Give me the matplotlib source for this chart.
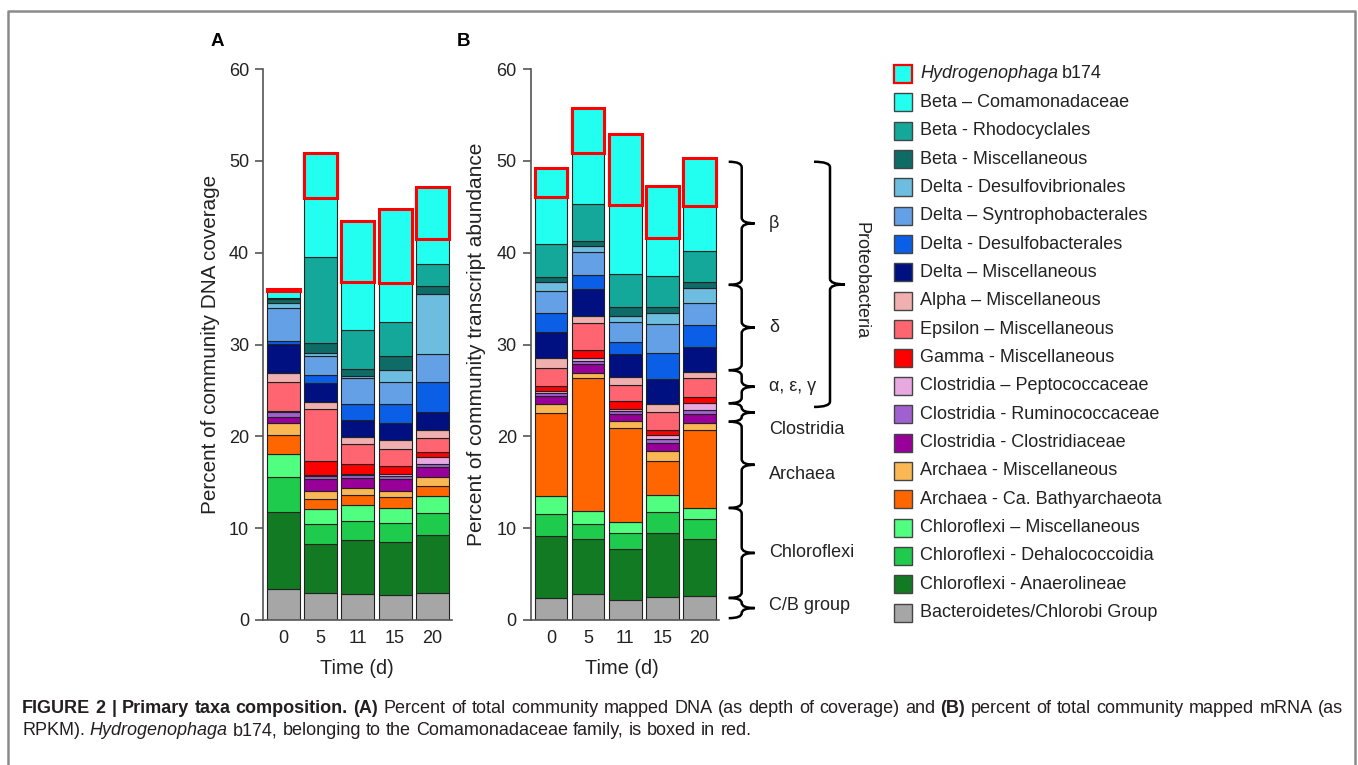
import matplotlib
matplotlib.use("Agg")
import matplotlib.pyplot as plt
import numpy as np
from matplotlib.patches import Rectangle, PathPatch
from matplotlib.path import Path
from matplotlib.lines import Line2D
from matplotlib.transforms import blended_transform_factory

plt.rcParams['font.family'] = ['Liberation Sans', 'DejaVu Sans']

W, H = 1358, 765

days = ['0', '5', '11', '15', '20']

# stacking order, bottom -> top
taxa = ['Bacteroidetes/Chlorobi Group',
        'Chloroflexi - Anaerolineae',
        'Chloroflexi - Dehalococcoidia',
        'Chloroflexi \u2013 Miscellaneous',
        'Archaea - Ca. Bathyarchaeota',
        'Archaea - Miscellaneous',
        'Clostridia - Clostridiaceae',
        'Clostridia - Ruminococcaceae',
        'Clostridia \u2013 Peptococcaceae',
        'Gamma - Miscellaneous',
        'Epsilon \u2013 Miscellaneous',
        'Alpha \u2013 Miscellaneous',
        'Delta \u2013 Miscellaneous',
        'Delta - Desulfobacterales',
        'Delta \u2013 Syntrophobacterales',
        'Delta - Desulfovibrionales',
        'Beta - Miscellaneous',
        'Beta - Rhodocyclales',
        'Beta \u2013 Comamonadaceae',
        'Hydrogenophaga b174']

colors = ['#a6a6a6', '#127a23', '#1ecb4c', '#50ff80', '#ff6600', '#fab855',
          '#990099', '#a060d0', '#e8a8e0', '#ff0000', '#ff6570', '#f0b0b0',
          '#001080', '#0a5fe6', '#64a0e6', '#6cbde0', '#0e6b66', '#14a89a',
          '#22fff0', '#22fff0']

# (A) percent of community DNA coverage, one row per taxon (days 0,5,11,15,20)
dna_pct = [
    [3.38, 2.98, 2.84, 2.70, 2.98],
    [8.42, 5.32, 5.92, 5.74, 6.32],
    [3.80, 2.20, 2.04, 2.16, 2.30],
    [2.50, 1.60, 1.75, 1.60, 1.90],
    [2.00, 1.10, 1.05, 1.20, 1.10],
    [1.40, 0.80, 0.75, 0.70, 0.95],
    [0.60, 1.35, 1.15, 1.25, 1.15],
    [0.60, 0.35, 0.30, 0.35, 0.30],
    [0.05, 0.05, 0.10, 0.20, 0.80],
    [0.05, 1.55, 1.10, 0.90, 0.50],
    [3.10, 5.70, 2.20, 1.85, 1.50],
    [1.00, 0.70, 0.70, 0.90, 0.90],
    [3.10, 2.10, 1.85, 1.85, 1.90],
    [0.40, 0.85, 1.75, 2.10, 3.30],
    [3.60, 2.15, 2.90, 2.40, 3.05],
    [0.50, 0.30, 0.20, 1.30, 6.50],
    [0.50, 1.10, 0.70, 1.60, 0.95],
    [0.10, 9.30, 4.30, 3.60, 2.40],
    [0.70, 6.40, 5.20, 4.25, 2.65],
    [0.20, 4.90, 6.65, 8.15, 5.65],
]

# (B) percent of community transcript abundance
rna_pct = [
    [2.40, 2.84, 2.20, 2.50, 2.60],
    [6.73, 6.00, 5.55, 7.00, 6.24],
    [2.37, 1.66, 1.70, 2.25, 2.16],
    [2.00, 1.35, 1.25, 1.85, 1.20],
    [9.00, 14.55, 10.25, 3.70, 8.45],
    [1.00, 0.55, 0.75, 1.05, 0.80],
    [0.90, 0.95, 0.70, 0.95, 0.95],
    [0.30, 0.30, 0.35, 0.45, 0.45],
    [0.25, 0.30, 0.25, 0.35, 0.75],
    [0.50, 0.90, 0.90, 0.55, 0.70],
    [2.00, 2.95, 1.65, 2.05, 2.10],
    [1.05, 0.75, 0.95, 0.80, 0.60],
    [2.85, 2.90, 2.45, 2.70, 2.70],
    [2.10, 1.60, 1.30, 2.90, 2.40],
    [2.35, 2.50, 2.15, 3.10, 2.45],
    [1.00, 0.60, 0.70, 1.25, 1.55],
    [0.50, 0.60, 1.00, 0.65, 0.75],
    [3.60, 4.00, 3.60, 3.40, 3.35],
    [5.20, 5.60, 7.45, 4.10, 4.90],
    [3.10, 4.80, 7.75, 5.70, 5.20],
]

# group braces next to panel B: (label, bottom, top)
groups = [('\u03b2', 36.5, 49.9), ('\u03b4', 27.2, 36.5), ('\u03b1, \u03b5, \u03b3', 23.6, 27.2),
          ('Clostridia', 21.6, 23.6), ('Archaea', 12.2, 21.6), ('Chloroflexi', 2.4, 12.2),
          ('C/B group', 0.2, 2.4)]
proteo = (23.2, 49.9)

fig = plt.figure(figsize=(W / 100, H / 100), dpi=100)
rend = fig.canvas.get_renderer()


def fx(px):
    return px / W


def fy(py):
    return 1 - py / H


def stacked(ax, table):
    x = np.arange(len(days))
    bottom = np.zeros(len(days))
    for i, row in enumerate(table):
        vals = np.array(row)
        hydro = i == len(table) - 1
        ax.bar(x, vals, 0.885, bottom=bottom, color=colors[i],
               edgecolor='red' if hydro else '#222222',
               linewidth=2.2 if hydro else 0.8, zorder=3 if hydro else 2)
        bottom += vals
    ax.set_xlim(-0.545, 4.53)
    ax.set_ylim(0, 60)
    ax.set_yticks(range(0, 61, 10))
    ax.set_xticks(x)
    ax.set_xticklabels(days)
    for s in ['top', 'right']:
        ax.spines[s].set_visible(False)
    for s in ['left', 'bottom']:
        ax.spines[s].set_color('#555555')
        ax.spines[s].set_linewidth(1.2)
    ax.tick_params(axis='y', length=6, width=1.2, color='#555555', labelsize=13,
                   labelcolor='#222222', pad=4)
    ax.tick_params(axis='x', length=0, labelsize=13, labelcolor='#222222', pad=7)


ax_a = fig.add_axes([fx(263), fy(620), fx(452 - 263), (620 - 69) / H])
ax_b = fig.add_axes([fx(530.7), fy(620), fx(719 - 530.7), (620 - 69) / H])
stacked(ax_a, dna_pct)
stacked(ax_b, rna_pct)

ax_a.set_ylabel('Percent of community DNA coverage', fontsize=14.9, color='#222222')
ax_a.yaxis.set_label_coords(-0.225, 0.5)
ax_b.set_ylabel('Percent of community transcript abundance', fontsize=15, color='#222222')
ax_b.yaxis.set_label_coords(-0.24, 0.5)

fig.text(fx(357), fy(669), 'Time (d)', fontsize=14.4, ha='center', va='center', color='#222222')
fig.text(fx(622), fy(669), 'Time (d)', fontsize=14.4, ha='center', va='center', color='#222222')
fig.text(fx(217), fy(42), 'A', fontsize=13.5, fontweight='bold', ha='center', va='center')
fig.text(fx(463), fy(42), 'B', fontsize=13.5, fontweight='bold', ha='center', va='center')


def brace(ax, xpx, y0, y1, hook=13, tick=13, lw=1.8):
    tr = blended_transform_factory(fig.transFigure, ax.transData)
    x, h, t = fx(xpx), fx(hook), fx(tick)
    r = min(0.6, (y1 - y0) / 4)
    ym = (y0 + y1) / 2
    verts = [(x - h, y1), (x, y1), (x, y1 - r), (x, ym + r), (x, ym), (x + t, ym),
             (x, ym), (x, ym - r), (x, y0 + r), (x, y0), (x - h, y0)]
    codes = [Path.MOVETO, Path.CURVE3, Path.CURVE3, Path.LINETO, Path.CURVE3, Path.CURVE3,
             Path.CURVE3, Path.CURVE3, Path.LINETO, Path.CURVE3, Path.CURVE3]
    p = PathPatch(Path(verts, codes), transform=tr, fill=False, lw=lw, color='black',
                  clip_on=False, capstyle='butt')
    fig.add_artist(p)
    return ym


for name, lo, hi in groups:
    ym = brace(ax_b, 741.7, lo, hi)
    ty = {'Clostridia': 20.7, 'Archaea': 15.8, 'Chloroflexi': 7.3, 'C/B group': 1.6}.get(name, ym)
    ax_b.text(fx(769), ty, name, transform=blended_transform_factory(fig.transFigure, ax_b.transData),
              fontsize=13, va='center', ha='left', color='#222222')

brace(ax_b, 830, proteo[0], proteo[1], hook=16, tick=15)
fig.text(fx(861), fy(281), 'Proteobacteria', rotation=-90, fontsize=13,
         ha='center', va='center', color='#222222')

# legend, top -> bottom
for k in range(len(taxa)):
    i = len(taxa) - 1 - k
    yc = 74 + k * 28.35
    hydro = i == len(taxa) - 1
    fig.add_artist(Rectangle((fx(894), fy(yc + 9)), fx(18), 18 / H, facecolor=colors[i],
                             edgecolor='red' if hydro else '#444444', lw=1.6 if hydro else 1.0,
                             transform=fig.transFigure))
    if hydro:
        t = fig.text(fx(920), fy(yc), 'Hydrogenophaga', fontsize=13, style='italic',
                     va='center', color='#222222')
        bb = t.get_window_extent(rend)
        fig.text(bb.x1 / W + fx(4), fy(yc), 'b174', fontsize=13, va='center', color='#222222')
    else:
        fig.text(fx(920), fy(yc), taxa[i], fontsize=13, va='center', color='#222222')

# frame
frame = Line2D([fx(8), fx(8), fx(1355), fx(1355)], [0, fy(11), fy(11), 0],
               transform=fig.transFigure, color='#8a8a8a', lw=1.8)
fig.add_artist(frame)

# caption
cap1 = [('FIGURE 2 | Primary taxa composition. (A)', 'bold', 'normal'),
        ('Percent of total community mapped DNA (as depth of coverage) and', 'normal', 'normal'),
        ('(B)', 'bold', 'normal'),
        ('percent of total community mapped mRNA (as', 'normal', 'normal')]
cap2 = [('RPKM).', 'normal', 'normal'), ('Hydrogenophaga', 'normal', 'italic'),
        ('b174, belonging to the Comamonadaceae family, is boxed in red.', 'normal', 'normal')]

CAP_SIZE = 13.0


def text_width(s, **kw):
    t = fig.text(0, 0, s, fontsize=CAP_SIZE, **kw)
    w = t.get_window_extent(rend).width
    t.remove()
    return w


space = text_width('n n') - text_width('nn')


def caption_line(y, parts, right=None):
    words = []
    for s, w, st in parts:
        for word in s.split(' '):
            t = fig.text(0, y, word, fontsize=CAP_SIZE, fontweight=w, style=st,
                         va='baseline', color='#231f20')
            words.append((t, t.get_window_extent(rend).width))
    total = sum(wd for _, wd in words)
    if right is None:
        gap = space
    else:
        gap = (right - 22 - total) / (len(words) - 1)
    x = 22
    for t, wd in words:
        t.set_x(fx(x))
        x += wd + gap


caption_line(fy(713), cap1, right=1343)
caption_line(fy(735), cap2)

fig.savefig('out.png', dpi=100)
